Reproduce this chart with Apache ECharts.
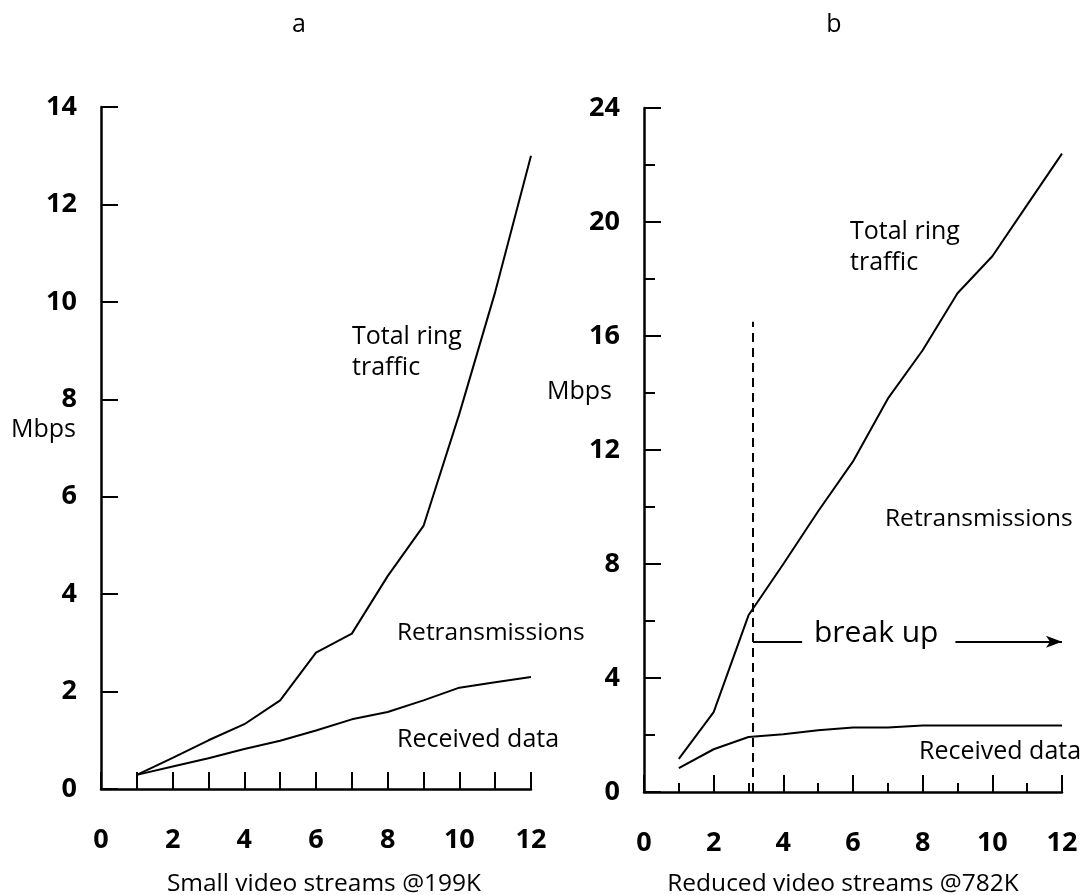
<!DOCTYPE html>
<html>
<head>
<meta charset="utf-8">
<script src="https://cdn.jsdelivr.net/npm/echarts@6/dist/echarts.min.js"></script>
<style>
html,body{margin:0;padding:0;background:#fff;}
#chart{width:1087px;height:895px;}
</style>
</head>
<body>
<div id="chart"></div>
<script>
// ---- data ----
const streams = [1, 2, 3, 4, 5, 6, 7, 8, 9, 10, 11, 12];
const aTotal = [0.29, 0.64, 1.0, 1.33, 1.82, 2.8, 3.19, 4.37, 5.4, 7.7, 10.2, 13.0];
const aReceived = [0.29, 0.46, 0.63, 0.82, 0.99, 1.2, 1.43, 1.58, 1.82, 2.08, 2.19, 2.3];
const bTotal = [1.16, 2.8, 6.2, 8.0, 9.85, 11.6, 13.8, 15.5, 17.5, 18.8, 20.6, 22.4];
const bReceived = [0.84, 1.5, 1.93, 2.03, 2.17, 2.26, 2.26, 2.33, 2.33, 2.33, 2.33, 2.33];
const breakX = 3.13, breakTop = 16.5, breakY = 5.27, breakDashEnd = 4.54, arrowStart = 8.94, arrowEnd = 12.0;
const titles = ['a', 'b'];
const xNames = ['Small video streams @199K', 'Reduced video streams @782K'];

const pair = (xs, ys) => xs.map((x, i) => [x, ys[i]]);
const FONT = "'Open Sans', 'Noto Sans', sans-serif";
const black = '#000';

function xAxisCfg(idx, minor) {
  return {
    type: 'value', gridIndex: idx, min: 0, max: 12, interval: minor ? 2 : 1,
    axisLine: { show: true, onZero: false, lineStyle: { color: black, width: 2.5 } },
    axisTick: { show: true, inside: true, length: 17, lineStyle: { color: black, width: 2 } },
    minorTick: minor ? { show: true, splitNumber: 2, length: 9, lineStyle: { color: black, width: 2 } } : { show: false },
    axisLabel: {
      margin: 38, fontSize: 27, fontWeight: 'bold', color: black, fontFamily: FONT,
      formatter: v => (v % 2 === 0 ? String(v) : '')
    },
    splitLine: { show: false }, minorSplitLine: { show: false }
  };
}
function yAxisCfg(idx, max, interval, minor) {
  return {
    type: 'value', gridIndex: idx, min: 0, max: max, interval: interval,
    axisLine: { show: true, lineStyle: { color: black, width: 2.5 } },
    axisTick: { show: true, inside: true, length: 17, lineStyle: { color: black, width: 2 } },
    minorTick: minor ? { show: true, splitNumber: 2, length: 11, lineStyle: { color: black, width: 2 } } : { show: false },
    axisLabel: { margin: 24, fontSize: 27, fontWeight: 'bold', color: black, fontFamily: FONT },
    splitLine: { show: false }, minorSplitLine: { show: false }
  };
}
const lineSeries = (idx, data) => ({
  type: 'line', xAxisIndex: idx, yAxisIndex: idx, data: data,
  showSymbol: false, symbol: 'none', silent: true,
  lineStyle: { color: black, width: 2 }
});
const txt = (x, y, text, size, align, extra) => ({
  type: 'text', x: x, y: y, silent: true,
  style: Object.assign({
    text: text, fill: black, font: `${size}px ${FONT}`, fontSize: size, fontFamily: FONT,
    align: align || 'left', verticalAlign: 'middle', textAlign: align || 'left', textVerticalAlign: 'middle', lineHeight: 31
  }, extra || {})
});

const bTotalSeries = lineSeries(1, pair(streams, bTotal));
bTotalSeries.markLine = {
  silent: true, symbol: 'none', label: { show: false },
  data: [
    [{ coord: [breakX, 0], lineStyle: { type: [9, 6], width: 2, color: black } }, { coord: [breakX, breakTop] }],
    [{ coord: [breakX, breakY], lineStyle: { type: 'solid', width: 2, color: black } }, { coord: [breakDashEnd, breakY] }],
    [{ coord: [arrowStart, breakY], lineStyle: { type: 'solid', width: 2, color: black }, symbol: 'none' },
     { coord: [arrowEnd, breakY], symbol: 'arrow', symbolSize: [9, 16] }]
  ]
};

const option = {
  animation: false,
  backgroundColor: '#fff',
  grid: [
    { left: 101, top: 107, width: 430, height: 682 },
    { left: 644, top: 108, width: 418, height: 684 }
  ],
  xAxis: [xAxisCfg(0, false), xAxisCfg(1, true)],
  yAxis: [yAxisCfg(0, 14, 2, false), yAxisCfg(1, 24, 4, true)],
  series: [
    lineSeries(0, pair(streams, aTotal)),
    lineSeries(0, pair(streams, aReceived)),
    bTotalSeries,
    lineSeries(1, pair(streams, bReceived))
  ],
  graphic: [
    txt(299, 25, titles[0], 25, 'center'),
    txt(834, 25, titles[1], 25, 'center'),
    txt(324, 884, xNames[0], 24.5, 'center'),
    txt(843, 884, xNames[1], 24.5, 'center'),
    txt(352, 352, 'Total ring\ntraffic', 25, 'left'),
    txt(76, 430, 'Mbps', 25, 'right'),
    txt(397, 633, 'Retransmissions', 24.5, 'left'),
    txt(397, 740, 'Received data', 25, 'left'),
    txt(850, 247, 'Total ring\ntraffic', 25, 'left'),
    txt(547, 392, 'Mbps', 25, 'left'),
    txt(885, 519, 'Retransmissions', 24.5, 'left'),
    txt(919, 752, 'Received data', 25, 'left'),
    txt(814, 633, 'break up', 30, 'left')
  ]
};
const chart = echarts.init(document.getElementById('chart'), null, { renderer: 'canvas' });
chart.setOption(option);
</script>
</body>
</html>
